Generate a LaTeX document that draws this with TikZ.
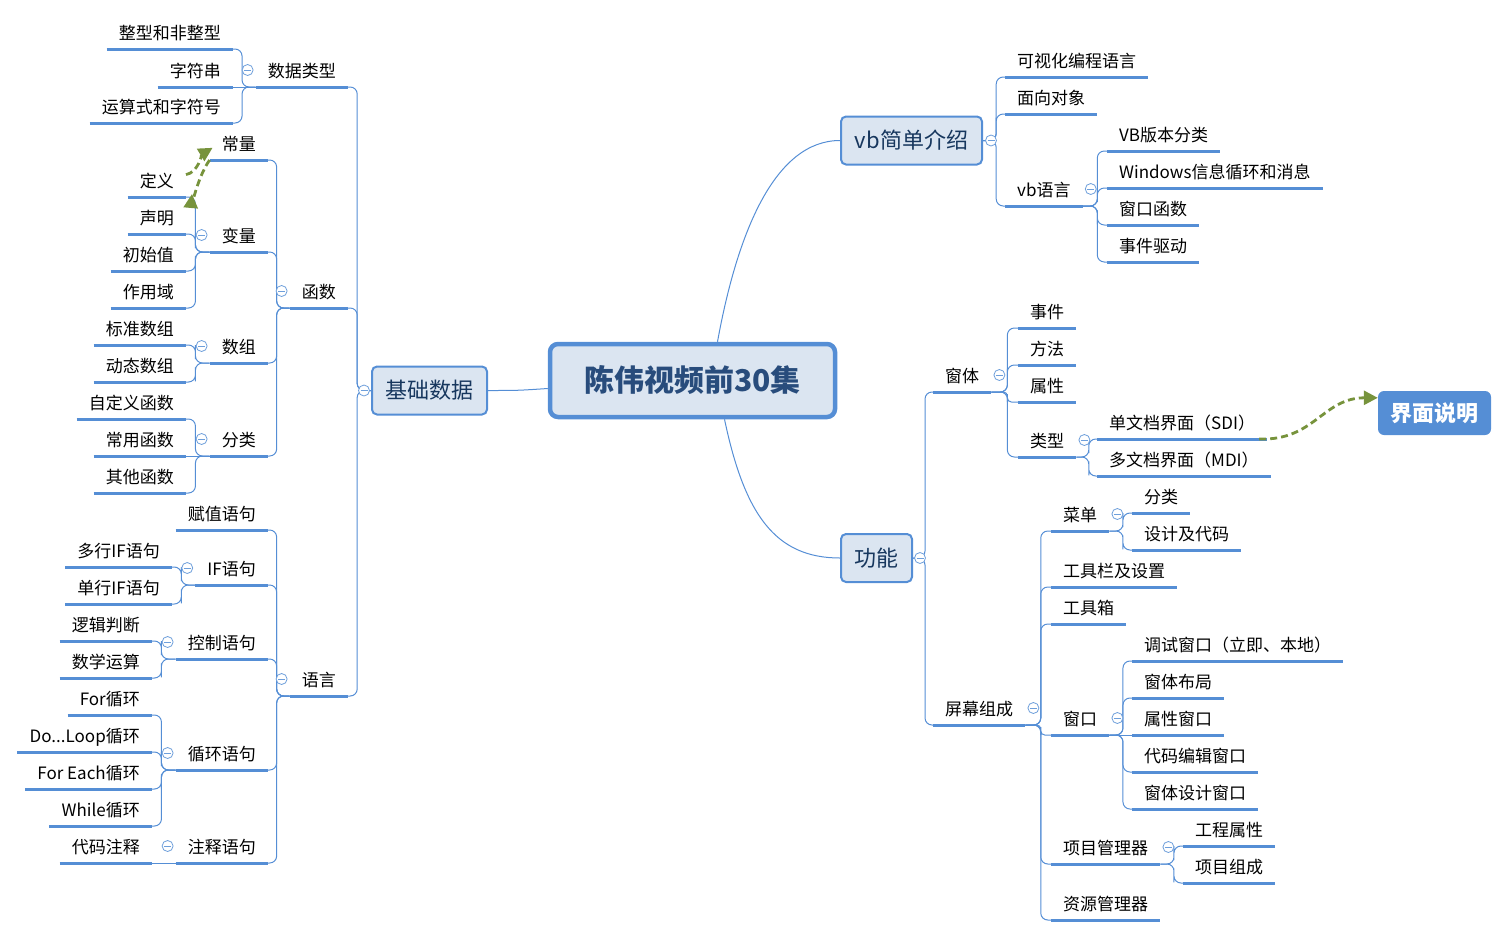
\documentclass[tikz,border=0pt]{standalone}
\usepackage{fontspec}
\setmainfont{Noto Sans CJK SC}
\usetikzlibrary{calc, arrows.meta}
\definecolor{lineblue}{RGB}{85,142,213}
\definecolor{boxfill}{RGB}{219,229,241}
\definecolor{boxtext}{RGB}{23,55,94}
\definecolor{titletext}{RGB}{40,76,124}
\definecolor{relgreen}{RGB}{119,147,60}
\newcommand{\tf}{\fontsize{17}{20}\selectfont}
\newcommand{\subf}{\fontsize{22}{26}\selectfont}
\newcommand{\titlef}{\fontsize{30}{34}\selectfont\bfseries}
\def \ulw {3pt}
\tikzset{
  uline/.style = {draw = lineblue, line width = \ulw},
  topic/.style = {font = \tf, inner xsep = 12pt, inner ysep = 2pt, text height = 13pt, text depth = 7pt,
    append after command = {(\tikzlastnode.south west) edge [uline] (\tikzlastnode.south east)}},
  lt/.style = {topic, anchor = south east},
  rt/.style = {topic, anchor = south west},
  conn/.style = {draw = lineblue, line width = 1pt, rounded corners = 7pt},
  fork/.style = {to path = {-| ($(\tikztostart)!.6!(\tikztotarget)$) |- (\tikztotarget)}},
  sub/.style = {draw = lineblue, line width = 2pt, fill = boxfill, rounded corners = 5pt, text = boxtext, font = \subf, minimum height = 48pt},
  fold/.style = {circle, draw = lineblue!85, line width = 0.8pt, fill = white, minimum size = 11pt, inner sep = 0pt,
    path picture = {\draw [lineblue!85, line width = 0.8pt] ([xshift = -3.5pt] path picture bounding box.center) -- ([xshift = 3.5pt] path picture bounding box.center);}},
  rel/.style = {draw = relgreen, line width = 2.8pt, dash pattern = on 7pt off 4pt, -{Triangle[length = 14pt, width = 14pt]}}
}

\begin{document}
\begin{tikzpicture}[x = 1pt, y = -1pt]
\useasboundingbox (0, 0) rectangle (1508, 937);

\node (title) [draw = lineblue, line width = 4.5pt, fill = boxfill, rounded corners = 8pt, text = titletext, font = \titlef, minimum width = 285pt, minimum height = 73pt] at (692.5, 380.5) {陈伟视频前30集};
\node (basic) [sub, minimum width = 115pt] at (429.5, 390.5) {基础数据};
\node (intro) [sub, minimum width = 141pt] at (911.5, 140.5) {vb简单介绍};
\node (func) [sub, minimum width = 71pt] at (876.5, 558) {功能};
\node (ui) [fill = lineblue, rounded corners = 6pt, text = white, font = \subf\bfseries, minimum width = 113pt, minimum height = 44pt] at (1434.5, 413) {界面说明};

\draw [conn] (basic.east) .. controls +(30, 0) and +(-30, 2) .. ([yshift = -8pt] title.west);
\draw [conn] ([xshift = 25pt] title.north) .. controls +(20, -110) and +(-65, 0) .. (intro.west);
\draw [conn] ([xshift = 32pt] title.south) .. controls +(20, 95) and +(-65, 0) .. (func.west);

\node (types) [lt] at (348, 87) {数据类型};
\node (ints) [lt] at (233, 49) {整型和非整型};
\node (strs) [lt] at (233, 87) {字符串};
\node (ops) [lt] at (233, 123) {运算式和字符号};

\node (funcs) [lt] at (348, 308) {函数};
\node (const) [lt] at (268, 160) {常量};
\node (var) [lt] at (268, 252) {变量};
\node (def) [lt] at (186, 197) {定义};
\node (decl) [lt] at (186, 234) {声明};
\node (init) [lt] at (186, 271) {初始值};
\node (scope) [lt] at (186, 308) {作用域};
\node (arr) [lt] at (268, 363) {数组};
\node (stdarr) [lt] at (186, 345) {标准数组};
\node (dynarr) [lt] at (186, 382) {动态数组};
\node (fcat) [lt] at (268, 456) {分类};
\node (udf) [lt] at (186, 419) {自定义函数};
\node (comfn) [lt] at (186, 456) {常用函数};
\node (othfn) [lt] at (186, 493) {其他函数};

\node (lang) [lt] at (348, 696) {语言};
\node (assign) [lt] at (268, 530) {赋值语句};
\node (ifst) [lt] at (268, 585) {IF语句};
\node (mif) [lt] at (172, 567) {多行IF语句};
\node (sif) [lt] at (172, 604) {单行IF语句};
\node (ctrl) [lt] at (268, 659) {控制语句};
\node (logic) [lt] at (152, 641) {逻辑判断};
\node (math) [lt] at (152, 678) {数学运算};
\node (loop) [lt] at (268, 770) {循环语句};
\node (forl) [lt] at (152, 715) {For循环};
\node (dol) [lt] at (152, 752) {Do...Loop循环};
\node (fel) [lt] at (152, 789) {For Each循环};
\node (whl) [lt] at (152, 826) {While循环};
\node (note) [lt] at (268, 863) {注释语句};
\node (cnote) [lt] at (152, 863) {代码注释};

\node (vis) [rt] at (1005, 77) {可视化编程语言};
\node (oop) [rt] at (1005, 114) {面向对象};
\node (vbl) [rt] at (1005, 206) {vb语言};
\node (ver) [rt] at (1107, 151) {VB版本分类};
\node (winmsg) [rt] at (1107, 188) {Windows信息循环和消息};
\node (winfn) [rt] at (1107, 225) {窗口函数};
\node (drive) [rt] at (1107, 262) {事件驱动};

\node (form) [rt] at (933, 392) {窗体};
\node (evt) [rt] at (1018, 328) {事件};
\node (meth) [rt] at (1018, 365) {方法};
\node (prop) [rt] at (1018, 402) {属性};
\node (ftype) [rt] at (1018, 457) {类型};
\node (sdi) [rt] at (1097, 439) {单文档界面（SDI）};
\node (mdi) [rt] at (1097, 476) {多文档界面（MDI）};

\node (screen) [rt] at (933, 725) {屏幕组成};
\node (menu) [rt] at (1051, 531) {菜单};
\node (mcat) [rt] at (1132, 513) {分类};
\node (mcode) [rt] at (1132, 550) {设计及代码};
\node (tbar) [rt] at (1051, 587) {工具栏及设置};
\node (tbox) [rt] at (1051, 624) {工具箱};
\node (win) [rt] at (1051, 735) {窗口};
\node (dbg) [rt] at (1132, 661) {调试窗口（立即、本地）};
\node (layout) [rt] at (1132, 698) {窗体布局};
\node (propw) [rt] at (1132, 735) {属性窗口};
\node (codew) [rt] at (1132, 772) {代码编辑窗口};
\node (dsgnw) [rt] at (1132, 809) {窗体设计窗口};
\node (proj) [rt] at (1051, 864) {项目管理器};
\node (pprop) [rt] at (1183, 846) {工程属性};
\node (pcomp) [rt] at (1183, 883) {项目组成};
\node (res) [rt] at (1051, 920) {资源管理器};

\draw [conn] (basic.west) to [fork] (types.south east);
\draw [conn] (basic.west) to [fork] (funcs.south east);
\draw [conn] (basic.west) to [fork] (lang.south east);
\draw [conn] (types.south west) to [fork] (ints.south east);
\draw [conn] (types.south west) -- (strs.south east);
\draw [conn] (types.south west) to [fork] (ops.south east);

\draw [conn] (funcs.south west) to [fork] (const.south east);
\draw [conn] (funcs.south west) to [fork] (var.south east);
\draw [conn] (funcs.south west) to [fork] (arr.south east);
\draw [conn] (funcs.south west) to [fork] (fcat.south east);
\draw [conn] (var.south west) to [fork] (def.south east);
\draw [conn] (var.south west) to [fork] (decl.south east);
\draw [conn] (var.south west) to [fork] (init.south east);
\draw [conn] (var.south west) to [fork] (scope.south east);
\draw [conn] (arr.south west) to [fork] (stdarr.south east);
\draw [conn] (arr.south west) to [fork] (dynarr.south east);
\draw [conn] (fcat.south west) to [fork] (udf.south east);
\draw [conn] (fcat.south west) -- (comfn.south east);
\draw [conn] (fcat.south west) to [fork] (othfn.south east);

\draw [conn] (lang.south west) to [fork] (assign.south east);
\draw [conn] (lang.south west) to [fork] (ifst.south east);
\draw [conn] (lang.south west) to [fork] (ctrl.south east);
\draw [conn] (lang.south west) to [fork] (loop.south east);
\draw [conn] (lang.south west) to [fork] (note.south east);
\draw [conn] (ifst.south west) to [fork] (mif.south east);
\draw [conn] (ifst.south west) to [fork] (sif.south east);
\draw [conn] (ctrl.south west) to [fork] (logic.south east);
\draw [conn] (ctrl.south west) to [fork] (math.south east);
\draw [conn] (loop.south west) to [fork] (forl.south east);
\draw [conn] (loop.south west) to [fork] (dol.south east);
\draw [conn] (loop.south west) to [fork] (fel.south east);
\draw [conn] (loop.south west) to [fork] (whl.south east);
\draw [conn] (note.south west) -- (cnote.south east);

\draw [conn] (intro.east) to [fork] (vis.south west);
\draw [conn] (intro.east) to [fork] (oop.south west);
\draw [conn] (intro.east) to [fork] (vbl.south west);
\draw [conn] (vbl.south east) to [fork] (ver.south west);
\draw [conn] (vbl.south east) to [fork] (winmsg.south west);
\draw [conn] (vbl.south east) to [fork] (winfn.south west);
\draw [conn] (vbl.south east) to [fork] (drive.south west);

\draw [conn] (func.east) to [fork] (form.south west);
\draw [conn] (func.east) to [fork] (screen.south west);
\draw [conn] (form.south east) to [fork] (evt.south west);
\draw [conn] (form.south east) to [fork] (meth.south west);
\draw [conn, rounded corners = 4pt] (form.south east) to [fork] (prop.south west);
\draw [conn] (form.south east) to [fork] (ftype.south west);
\draw [conn] (ftype.south east) to [fork] (sdi.south west);
\draw [conn] (ftype.south east) to [fork] (mdi.south west);

\draw [conn] (screen.south east) to [fork] (menu.south west);
\draw [conn] (screen.south east) to [fork] (tbar.south west);
\draw [conn] (screen.south east) to [fork] (tbox.south west);
\draw [conn, rounded corners = 4pt] (screen.south east) to [fork] (win.south west);
\draw [conn] (screen.south east) to [fork] (proj.south west);
\draw [conn] (screen.south east) to [fork] (res.south west);
\draw [conn] (menu.south east) to [fork] (mcat.south west);
\draw [conn] (menu.south east) to [fork] (mcode.south west);
\draw [conn] (win.south east) to [fork] (dbg.south west);
\draw [conn] (win.south east) to [fork] (layout.south west);
\draw [conn] (win.south east) -- (propw.south west);
\draw [conn] (win.south east) to [fork] (codew.south west);
\draw [conn] (win.south east) to [fork] (dsgnw.south west);
\draw [conn] (proj.south east) to [fork] (pprop.south west);
\draw [conn] (proj.south east) to [fork] (pcomp.south west);

\node (fbasic) [fold] at ([xshift = -7pt] basic.west) {};
\node (ftypes) [fold] at ([shift = {(-8, -17)}] types.south west) {};
\node (ffuncs) [fold] at ([shift = {(-8, -17)}] funcs.south west) {};
\node (fvar) [fold] at ([shift = {(-8, -17)}] var.south west) {};
\node (farr) [fold] at ([shift = {(-8, -17)}] arr.south west) {};
\node (ffcat) [fold] at ([shift = {(-8, -17)}] fcat.south west) {};
\node (flang) [fold] at ([shift = {(-8, -17)}] lang.south west) {};
\node (fifst) [fold] at ([shift = {(-8, -17)}] ifst.south west) {};
\node (fctrl) [fold] at ([shift = {(-8, -17)}] ctrl.south west) {};
\node (floop) [fold] at ([shift = {(-8, -17)}] loop.south west) {};
\node (fnote) [fold] at ([shift = {(-8, -17)}] note.south west) {};
\node (fintro) [fold] at ([xshift = 8pt] intro.east) {};
\node (fvbl) [fold] at ([shift = {(8, -17)}] vbl.south east) {};
\node (ffunc) [fold] at ([xshift = 7pt] func.east) {};
\node (fform) [fold] at ([shift = {(8, -17)}] form.south east) {};
\node (fftype) [fold] at ([shift = {(8, -17)}] ftype.south east) {};
\node (fscreen) [fold] at ([shift = {(8, -17)}] screen.south east) {};
\node (fmenu) [fold] at ([shift = {(8, -17)}] menu.south east) {};
\node (fwin) [fold] at ([shift = {(8, -17)}] win.south east) {};
\node (fproj) [fold] at ([shift = {(8, -17)}] proj.south east) {};

\draw [rel] ([yshift = -2pt] def.north east) .. controls +(12, -2) and +(-10, 6) .. ([xshift = 3pt] const.west);
\draw [rel] (const.south west) .. controls +(-14, 20) and +(-2, 22) .. ([shift = {(6, -3)}] def.south east);
\draw [rel] ([xshift = -8pt] sdi.south east) .. controls +(55, 2) and +(-55, 0) .. ([yshift = -7pt] ui.north west);

\end{tikzpicture}
\end{document}
